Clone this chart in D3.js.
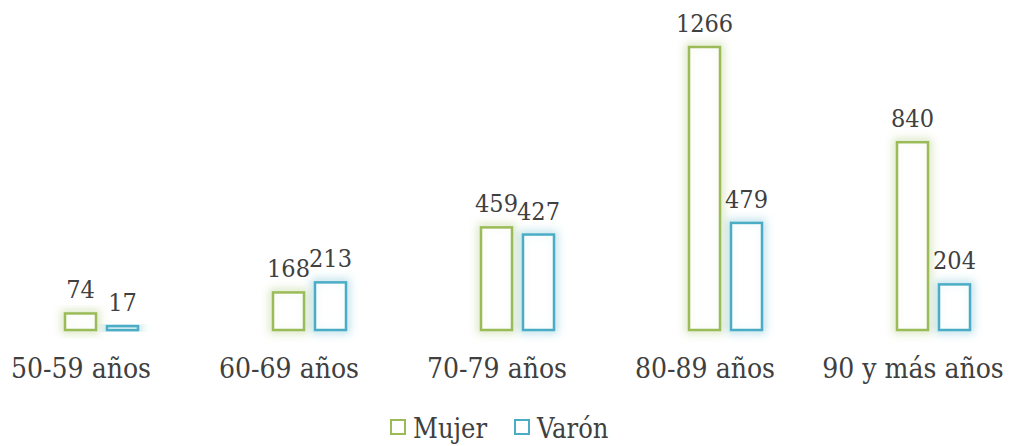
<!DOCTYPE html>
<html>
<head>
<meta charset="utf-8">
<script src="https://cdn.jsdelivr.net/npm/d3@7"></script>
<style>
  body { margin: 0; background: #fff; }
  svg text { font-family: "DejaVu Serif Condensed", "DejaVu Serif", serif; font-stretch: condensed; fill: #404040; }
</style>
</head>
<body>
<script>
// data
var categories = ["50-59 años", "60-69 años", "70-79 años", "80-89 años", "90 y más años"];
var series = ["Mujer", "Varón"];
var mujer = [74, 168, 459, 1266, 840];
var varon = [17, 213, 427, 479, 204];
var colors = ["#9bbb59", "#4bacc6"];

var width = 1011, height = 446;
var baseY = 330;

var svg = d3.select("body").append("svg")
	.attr("width", width)
	.attr("height", height);

// glow filter for each series
var defs = svg.append("defs");
colors.forEach(function (c, i) {
	var f = defs.append("filter").attr("id", "glow" + i)
		.attr("x", "-50%").attr("y", "-50%").attr("width", "200%").attr("height", "200%");
	f.append("feGaussianBlur").attr("stdDeviation", 4);
});

var x = d3.scaleBand().domain(categories).range([-23, 1017]);
var y = d3.scaleLinear().domain([0, 1266]).range([baseY, 47]);

var barW = 31;
var offsets = [-16, 26];

var rows = categories.map(function (c, i) { return { cat: c, vals: [mujer[i], varon[i]] }; });

var g = svg.selectAll(".grp").data(rows).enter().append("g")
	.attr("transform", function (d) { return "translate(" + (x(d.cat) + x.bandwidth() / 2) + ",0)"; });

series.forEach(function (s, si) {
	// glow behind
	g.append("rect")
		.attr("x", offsets[si])
		.attr("y", function (d) { return y(d.vals[si]); })
		.attr("width", barW)
		.attr("height", function (d) { return baseY - y(d.vals[si]); })
		.attr("fill", "none")
		.attr("stroke", colors[si])
		.attr("stroke-opacity", 0.4)
		.attr("stroke-width", 7)
		.attr("filter", "url(#glow" + si + ")");
	// bar
	g.append("rect")
		.attr("x", offsets[si])
		.attr("y", function (d) { return y(d.vals[si]); })
		.attr("width", barW)
		.attr("height", function (d) { return baseY - y(d.vals[si]); })
		.attr("fill", "#fff")
		.attr("fill-opacity", 0.85)
		.attr("stroke", colors[si])
		.attr("stroke-width", 2.5);
	// value label
	g.append("text")
		.attr("x", offsets[si] + barW / 2)
		.attr("y", function (d) { return y(d.vals[si]) - 15; })
		.attr("text-anchor", "middle")
		.attr("font-size", 25)
		.text(function (d) { return d.vals[si]; });
});

// category labels
var axis = d3.axisBottom(x).tickSize(0).tickPadding(0);
var ax = svg.append("g").attr("transform", "translate(0," + 378 + ")").call(axis);
ax.select(".domain").remove();
ax.selectAll("text")
	.attr("dy", 0)
	.attr("font-size", 28)
	.style("font-family", "\"DejaVu Serif Condensed\", \"DejaVu Serif\", serif")
	.attr("fill", "#404040");

// legend
var leg = [{ name: "Mujer", x: 391 }, { name: "Varón", x: 515 }];
leg.forEach(function (l, i) {
	svg.append("rect")
		.attr("x", l.x).attr("y", 420)
		.attr("width", 14).attr("height", 14)
		.attr("fill", "#fff")
		.attr("stroke", colors[i])
		.attr("stroke-width", 2);
	svg.append("text")
		.attr("x", l.x + 22).attr("y", 438)
		.attr("font-size", 27)
		.text(l.name);
});
</script>
</body>
</html>
